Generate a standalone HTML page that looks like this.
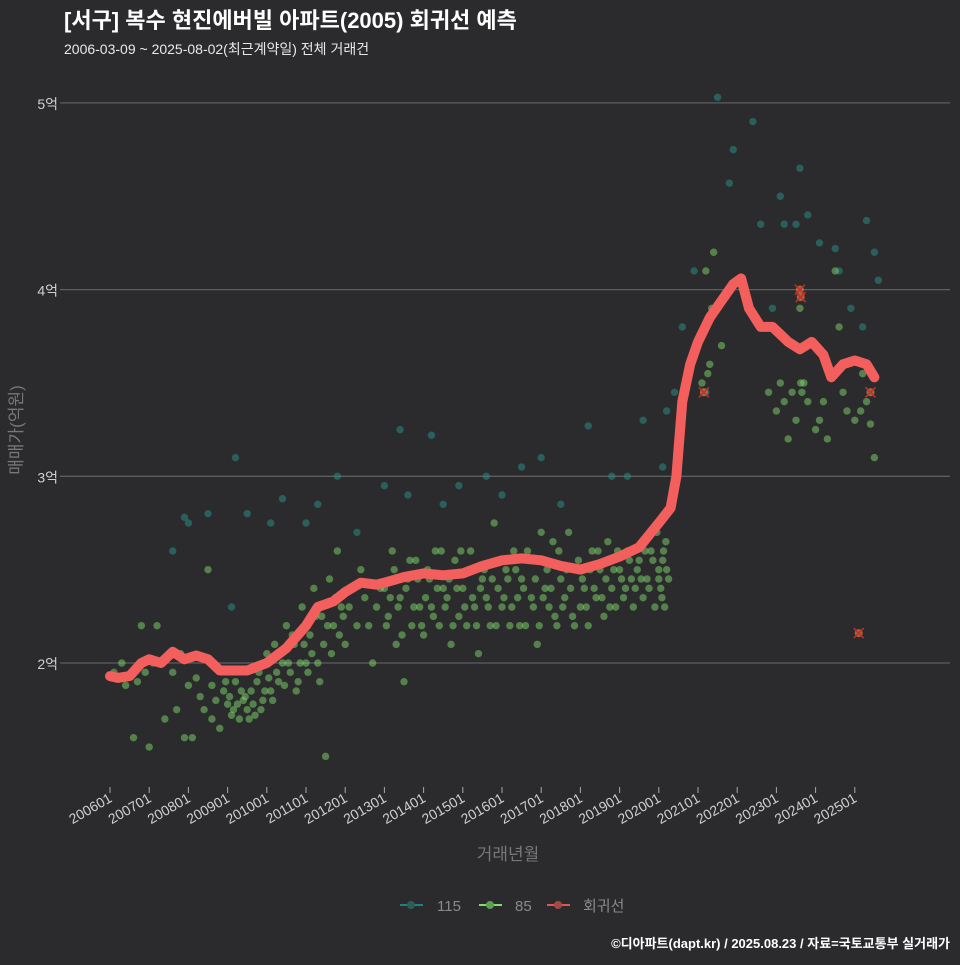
<!DOCTYPE html>
<html><head><meta charset="utf-8">
<style>
html,body{margin:0;padding:0;background:#2b2b2d;}
body{width:960px;height:960px;overflow:hidden;font-family:"Liberation Sans","Noto Sans CJK KR",sans-serif;}
</style></head>
<body>
<svg id="chart" width="960" height="960" xmlns="http://www.w3.org/2000/svg" style="font-family:'Liberation Sans','Noto Sans CJK KR',sans-serif">
<rect width="960" height="960" fill="#2b2b2d"/>
<text x="64" y="28" fill="#ffffff" font-size="22" font-weight="bold">[서구] 복수 현진에버빌 아파트(2005) 회귀선 예측</text>
<text x="64" y="54" fill="#e8e8e8" font-size="14">2006-03-09 ~ 2025-08-02(최근계약일) 전체 거래건</text>
<g id="grid"></g>
<g id="pts115"></g>
<g id="pts85"></g>
<path id="reg" fill="none" stroke="#f25f5c" stroke-width="10" stroke-linejoin="round" stroke-linecap="round"/>
<g id="xm"></g>
<g id="xaxis"></g>
<text transform="translate(22,430) rotate(-90)" text-anchor="middle" fill="#777" font-size="17">매매가(억원)</text>
<text x="508" y="860" text-anchor="middle" fill="#777" font-size="17">거래년월</text>
<g>
<g><line x1="400" y1="905" x2="423" y2="905" stroke="#26807a" stroke-width="2"/><circle cx="411" cy="905" r="4" fill="#2c5d5a"/><text x="437" y="911" fill="#8a8a8a" font-size="15">115</text></g>
<g><line x1="479" y1="905" x2="502" y2="905" stroke="#7fdc6e" stroke-width="2"/><circle cx="490" cy="905" r="4" fill="#5aa250"/><text x="515" y="911" fill="#8a8a8a" font-size="15">85</text></g>
<g><line x1="547" y1="905" x2="570" y2="905" stroke="#e05656" stroke-width="2"/><circle cx="558" cy="905" r="4" fill="#a54848"/><text x="583" y="911" fill="#8a8a8a" font-size="15">회귀선</text></g>
</g>
<text x="950" y="948" text-anchor="end" fill="#ffffff" font-size="13" font-weight="bold">©디아파트(dapt.kr) / 2025.08.23 / 자료=국토교통부 실거래가</text>
</svg>
<script>
const yTicks=[2,3,4,5];
const yTickLabels=["2억","3억","4억","5억"];
const xTicks=[2006,2007,2008,2009,2010,2011,2012,2013,2014,2015,2016,2017,2018,2019,2020,2021,2022,2023,2024,2025];
const xTickLabels=["200601","200701","200801","200901","201001","201101","201201","201301","201401","201501","201601","201701","201801","201901","202001","202101","202201","202301","202401","202501"];
const regT=[2006.0,2006.2,2006.5,2006.8,2007.0,2007.3,2007.6,2007.9,2008.2,2008.5,2008.8,2009.0,2009.5,2010.0,2010.5,2011.0,2011.3,2011.7,2012.0,2012.4,2012.8,2013.0,2013.5,2014.0,2014.5,2015.0,2015.5,2016.0,2016.5,2017.0,2017.5,2018.0,2018.5,2019.0,2019.5,2020.0,2020.3,2020.45,2020.6,2020.8,2021.0,2021.3,2021.6,2021.9,2022.1,2022.3,2022.6,2022.9,2023.3,2023.6,2023.9,2024.2,2024.4,2024.7,2025.0,2025.3,2025.5];
const regV=[1.93,1.92,1.93,2.0,2.02,2.0,2.06,2.02,2.04,2.02,1.96,1.96,1.96,2.0,2.08,2.2,2.3,2.33,2.38,2.43,2.42,2.43,2.46,2.48,2.47,2.48,2.52,2.55,2.56,2.55,2.52,2.5,2.53,2.57,2.62,2.75,2.83,3.0,3.4,3.6,3.72,3.85,3.94,4.03,4.06,3.9,3.8,3.8,3.72,3.68,3.72,3.65,3.53,3.6,3.62,3.6,3.53];
const t85=[2006.1,2006.3,2006.4,2006.6,2006.7,2006.8,2006.9,2007.0,2007.1,2007.2,2007.4,2007.6,2007.7,2007.8,2007.9,2008.0,2008.1,2008.2,2008.4,2008.5,2008.6,2008.7,2008.8,2008.9,2009.0,2009.1,2009.2,2009.3,2009.4,2009.5,2009.6,2009.7,2009.8,2009.9,2010.0,2010.1,2010.2,2010.3,2010.4,2010.5,2010.6,2010.7,2010.8,2010.9,2011.0,2011.1,2011.2,2011.3,2011.4,2011.5,2011.6,2011.7,2011.8,2011.9,2012.0,2012.2,2012.3,2012.5,2012.7,2012.8,2013.0,2013.1,2013.2,2013.3,2013.4,2013.5,2013.6,2013.7,2013.8,2013.9,2014.0,2014.1,2014.2,2014.3,2014.4,2014.5,2014.6,2014.7,2014.8,2014.9,2015.0,2015.1,2015.2,2015.3,2015.4,2015.5,2015.6,2015.7,2015.8,2015.9,2016.0,2016.1,2016.2,2016.3,2016.4,2016.5,2016.6,2016.7,2016.8,2016.9,2017.0,2017.1,2017.2,2017.3,2017.4,2017.5,2017.6,2017.7,2017.8,2017.9,2018.0,2018.1,2018.2,2018.3,2018.4,2018.5,2018.6,2018.7,2018.8,2018.9,2019.0,2019.1,2019.2,2019.3,2019.4,2019.5,2019.6,2019.7,2019.8,2019.9,2020.0,2020.05,2020.1,2020.2,2021.1,2021.2,2021.3,2021.4,2021.6,2022.8,2023.0,2023.1,2023.2,2023.3,2023.5,2023.6,2023.7,2023.8,2024.0,2024.2,2024.3,2024.5,2024.6,2024.8,2025.0,2025.2,2025.3,2025.4,2025.5];
const v85=[1.95,2.0,1.88,1.6,1.9,2.2,1.95,1.55,2.0,2.2,1.7,1.95,1.75,2.05,1.6,1.88,1.6,1.92,1.75,2.5,1.7,1.8,1.65,1.85,1.78,1.72,1.9,1.7,1.8,1.75,1.85,1.72,1.95,1.8,2.05,1.85,2.1,1.9,2.0,2.2,1.95,2.1,1.9,2.3,2.0,2.15,2.4,2.0,2.25,1.5,2.45,2.2,2.6,2.3,2.1,2.4,2.2,2.35,2.0,2.3,2.4,2.25,2.6,2.1,2.35,1.9,2.45,2.2,2.55,2.3,2.15,2.5,2.3,2.6,2.2,2.4,2.35,2.1,2.55,2.25,2.4,2.2,2.6,2.3,2.05,2.45,2.35,2.2,2.75,2.4,2.3,2.5,2.2,2.6,2.35,2.45,2.2,2.55,2.3,2.1,2.7,2.4,2.3,2.65,2.2,2.45,2.35,2.7,2.25,2.5,2.3,2.4,2.2,2.6,2.35,2.5,2.25,2.65,2.4,2.3,2.5,2.35,2.6,2.45,2.4,2.55,2.35,2.45,2.6,2.3,2.5,2.4,2.55,2.5,3.5,4.1,3.6,4.2,3.7,3.45,3.35,3.5,3.4,3.2,3.3,3.9,3.5,3.4,3.25,3.4,3.2,4.1,3.8,3.35,3.3,3.55,3.4,3.28,3.1];
const t85b=[2008.3,2008.6,2008.95,2009.05,2009.15,2009.25,2009.35,2009.45,2009.55,2009.65,2009.75,2009.85,2009.95,2010.05,2010.15,2010.25,2010.35,2010.45,2010.55,2010.65,2010.75,2010.85,2010.95,2011.05,2011.15,2011.25,2011.35,2011.45,2011.55,2011.65,2011.75,2011.85,2011.95,2012.1,2012.4,2012.6,2012.9,2013.05,2013.15,2013.25,2013.35,2013.45,2013.55,2013.65,2013.75,2013.85,2013.95,2014.05,2014.15,2014.25,2014.35,2014.45,2014.55,2014.65,2014.75,2014.85,2014.95,2015.05,2015.15,2015.25,2015.35,2015.45,2015.55,2015.65,2015.75,2015.85,2015.95,2016.05,2016.15,2016.25,2016.35,2016.45,2016.55,2016.65,2016.75,2016.85,2016.95,2017.05,2017.15,2017.25,2017.35,2017.45,2017.55,2017.65,2017.75,2017.85,2017.95,2018.05,2018.15,2018.25,2018.35,2018.45,2018.55,2018.65,2018.75,2018.85,2018.95,2019.05,2019.15,2019.25,2019.35,2019.45,2019.55,2019.65,2019.75,2019.85,2019.95,2020.0,2020.08,2020.12,2020.15,2020.18,2020.25,2021.25,2021.35,2023.4,2023.62,2023.65,2024.1,2024.7,2025.15,2025.25];
const v85b=[1.82,1.88,1.9,1.82,1.75,1.78,1.85,1.82,1.7,1.78,1.9,1.75,1.85,1.92,1.8,1.95,2.05,1.88,2.0,2.15,1.85,2.0,2.1,1.95,2.05,2.25,1.9,2.1,2.2,2.05,2.35,2.15,2.25,2.3,2.5,2.2,2.4,2.2,2.35,2.5,2.3,2.15,2.4,2.55,2.3,2.45,2.2,2.35,2.45,2.25,2.4,2.6,2.3,2.45,2.2,2.4,2.6,2.3,2.5,2.35,2.2,2.4,2.5,2.3,2.45,2.2,2.55,2.35,2.45,2.3,2.5,2.2,2.4,2.6,2.35,2.45,2.2,2.35,2.5,2.4,2.25,2.6,2.3,2.5,2.4,2.2,2.55,2.45,2.3,2.5,2.4,2.6,2.35,2.45,2.3,2.5,2.6,2.45,2.4,2.55,2.3,2.5,2.45,2.6,2.4,2.55,2.7,2.45,2.35,2.6,2.3,2.65,2.45,3.55,3.9,3.45,3.5,3.45,3.3,3.45,3.35,3.6];
const t115=[2007.6,2007.9,2008.0,2008.5,2009.1,2009.2,2009.5,2010.1,2010.4,2011.0,2011.3,2011.8,2012.3,2013.0,2013.4,2013.6,2014.2,2014.5,2014.9,2015.6,2016.0,2016.5,2017.0,2017.5,2018.2,2018.8,2019.2,2019.6,2020.1,2020.2,2020.4,2020.6,2020.9,2021.2,2021.5,2021.8,2021.9,2022.4,2022.6,2022.9,2023.1,2023.2,2023.5,2023.6,2023.8,2024.1,2024.5,2024.6,2024.9,2025.2,2025.3,2025.5,2025.6];
const v115=[2.6,2.78,2.75,2.8,2.3,3.1,2.8,2.75,2.88,2.75,2.85,3.0,2.7,2.95,3.25,2.9,3.22,2.85,2.95,3.0,2.9,3.05,3.1,2.85,3.27,3.0,3.0,3.3,3.05,3.35,3.45,3.8,4.1,3.45,5.03,4.57,4.75,4.9,4.35,3.9,4.5,4.35,4.35,4.65,4.4,4.25,4.22,4.1,3.9,3.8,4.37,4.2,4.05];
const outT=[2023.6,2023.62,2021.15,2025.1,2025.4];
const outV=[4.0,3.96,3.45,2.16,3.45];

const NS="http://www.w3.org/2000/svg";
const X=t=>110+(t-2006)*39.2;
const Y=v=>663-(v-2)*186.7;
function mk(tag,attrs,parent){const e=document.createElementNS(NS,tag);for(const k in attrs)e.setAttribute(k,attrs[k]);parent.appendChild(e);return e;}
const grid=document.getElementById('grid');
yTicks.forEach((v,i)=>{
  const l=mk('line',{x1:60,x2:950,y1:Y(v),y2:Y(v),stroke:'#5e5e60','stroke-width':1.3},grid);
  
  
  const t=mk('text',{x:58,y:Y(v)+6,'text-anchor':'end',fill:'#cfcfcf','font-size':14},grid);
  t.textContent=yTickLabels[i];
  
  
});
const xa=document.getElementById('xaxis');
xTicks.forEach((v,i)=>{
  const x=X(v);
  const l=mk('line',{x1:x,x2:x,y1:787,y2:793,stroke:'#aaa','stroke-width':1},xa);
  
  
  const t=mk('text',{transform:`translate(${x+3},${801}) rotate(-30)`,'text-anchor':'end',fill:'#cfcfcf','font-size':14},xa);
  t.textContent=xTickLabels[i];
  
  
});
const g115=document.getElementById('pts115');
t115.forEach((t,i)=>{
  const c=mk('circle',{cx:X(t),cy:Y(v115[i]),r:3.7,fill:'#2a8a82','fill-opacity':0.55},g115);
  
  
});
const g85=document.getElementById('pts85');
t85.concat(t85b).forEach((t,i)=>{
  const v=i<t85.length?v85[i]:v85b[i-t85.length];
  const c=mk('circle',{cx:X(t),cy:Y(v),r:3.7,fill:'#7fd86c','fill-opacity':0.5},g85);
  
  
});
document.getElementById('reg').setAttribute('d',regT.map((t,i)=>(i?'L':'M')+X(t).toFixed(1)+','+Y(regV[i]).toFixed(1)).join(''));
const xm=document.getElementById('xm');
outT.forEach((t,i)=>{
  const x=X(t),y=Y(outV[i]);
  const c=mk('circle',{cx:x,cy:y,r:4,fill:'#d0703a','fill-opacity':0.8},xm);
  
  
  mk('path',{d:`M${x-5},${y-5}L${x+5},${y+5}M${x+5},${y-5}L${x-5},${y+5}`,stroke:'#c03030','stroke-width':1.5},xm);
});
</script>
</body></html>
